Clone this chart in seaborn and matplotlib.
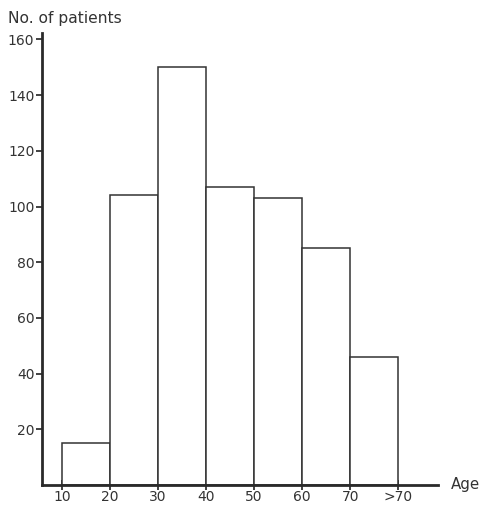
import matplotlib
matplotlib.use("Agg")
import matplotlib.pyplot as plt
import seaborn as sns
import numpy as np

# Data
bin_edges = [10, 20, 30, 40, 50, 60, 70, 80]
counts = [15, 104, 150, 107, 103, 85, 46]
x_tick_pos = [10, 20, 30, 40, 50, 60, 70, 80]
x_tick_labels = ["10", "20", "30", "40", "50", "60", "70", ">70"]
y_ticks = [20, 40, 60, 80, 100, 120, 140, 160]

mids = [(a + b) / 2 for a, b in zip(bin_edges[:-1], bin_edges[1:])]

sns.set_style("white", {"xtick.bottom": True, "ytick.left": True})
plt.rcParams['font.family'] = ['DejaVu Sans']

W, H = 483, 505
fig = plt.figure(figsize=(W / 100, H / 100), dpi=100)
ax = fig.add_axes([42 / W, 20 / H, (438 - 42) / W, (485 - 33) / H])

ink = "#2a2a2a"
sns.histplot(x=mids, weights=counts, bins=bin_edges, ax=ax,
             color="white", edgecolor="#333333", linewidth=1.1, alpha=1)

ax.set_xlim(5.8, 88.3)
ax.set_ylim(0, 162.3)

for s in ["top", "right"]:
    ax.spines[s].set_visible(False)
for s in ["left", "bottom"]:
    ax.spines[s].set_color(ink)
    ax.spines[s].set_linewidth(2)

ax.set_xticks(x_tick_pos)
ax.set_xticklabels(x_tick_labels)
ax.set_yticks(y_ticks)
ax.tick_params(axis="x", direction="inout", length=7, width=1.3, colors="#333333",
               labelsize=10, pad=0)
ax.tick_params(axis="y", direction="out", length=4, width=1.3, colors="#333333",
               labelsize=10, pad=1.5)
ax.set_xlabel("")
ax.set_ylabel("")

fig.text(8 / W, 1 - 18 / H, "No. of patients", fontsize=11.2, color="#333333",
         ha="left", va="center")
fig.text(451 / W, 1 - 484 / H, "Age", fontsize=10.8, color="#333333",
         ha="left", va="center")

fig.savefig("out.png", dpi=100, facecolor="white")
